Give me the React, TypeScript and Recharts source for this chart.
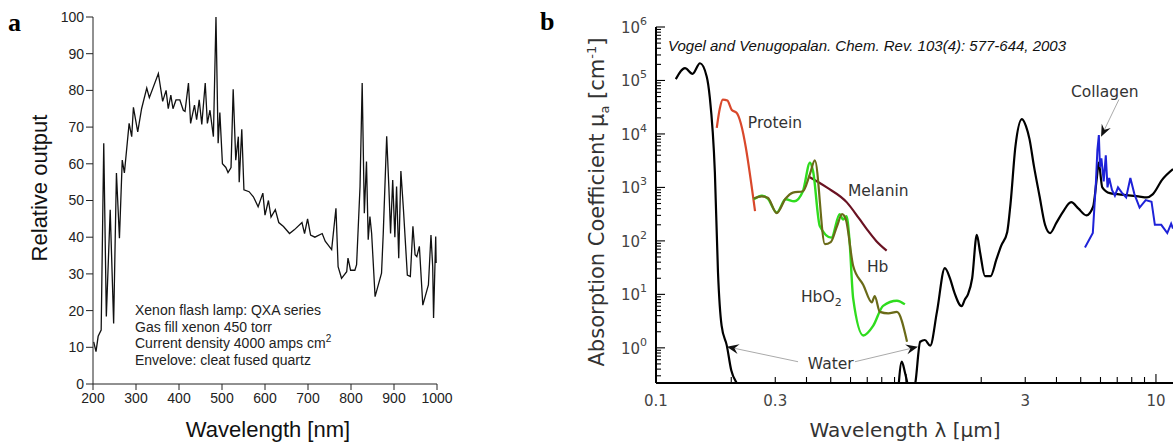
import React from 'react';
import { LineChart, Line, XAxis, YAxis, ReferenceLine, ReferenceDot } from 'recharts';

// ---- panel a: xenon flash lamp spectrum ----
const lampNm = [
  201.6, 207, 212, 219, 225, 231, 240, 248, 254.5, 261.5, 268, 273, 284, 290, 294, 304, 313, 325, 331, 352,
  362, 370, 375, 381, 386, 393, 402, 410, 414, 422, 427, 436, 441, 447, 453, 461, 466, 472, 480, 486,
  491, 495, 501, 509, 514, 521, 526, 532, 538, 540, 546, 551, 563, 573, 584, 595, 600, 608, 614, 624,
  632, 643, 657, 668, 686, 692, 699, 706, 716, 733, 740, 755, 765, 770, 778, 790, 793, 799, 809, 813,
  821, 826, 831, 836, 840, 844, 848, 856, 871, 875, 883, 888, 892, 897, 902, 906, 911, 916, 922, 931,
  938, 944, 949, 953, 959, 967, 980, 986, 990, 992, 997, 998,
];
const lampOutput = [
  11.5, 8.8, 13, 14.7, 65.6, 18.4, 47.5, 16.5, 57.5, 39.7, 61, 57.5, 71, 67.4, 75.4, 68.7, 75, 80.6, 78, 84.6,
  77, 80, 75, 78.7, 75, 77.4, 77.4, 74.6, 74.3, 82, 71, 76, 72, 77.4, 70.7, 82, 71, 74.6, 67.4, 100,
  65.6, 74, 60, 59, 57.6, 59, 80.3, 61, 67.4, 55, 69.4, 52.9, 52.4, 51, 48.3, 52, 46, 50, 45.5, 47.5,
  44, 42.9, 41, 42, 44, 41, 45, 40.6, 40, 41, 38.9, 36.6, 47.9, 32, 28.8, 30.6, 34.3, 31, 31, 32.5,
  53.8, 82, 46.5, 60.6, 39.3, 45.6, 41, 23.8, 30.2, 41, 67.5, 53.8, 41, 55.6, 40, 53.8, 34.3, 58, 47.5, 29.7,
  29.3, 43, 35.2, 34.7, 37.5, 21.5, 27, 40.6, 32, 18, 40.2, 33,
];
const lampXTicks = [200, 300, 400, 500, 600, 700, 800, 900, 1000];
const lampYTicks = [0, 10, 20, 30, 40, 50, 60, 70, 80, 90, 100];

// ---- panel b: tissue absorption coefficients ----
const waterUm = [
  0.12, 0.1306, 0.14, 0.15, 0.1595, 0.164, 0.172, 0.177, 0.183, 0.192, 0.2, 0.211, 0.222, 0.5,
  0.93, 0.962, 0.99, 1.03, 1.05,
  1.07, 1.09, 1.14, 1.19, 1.25, 1.33, 1.43, 1.5, 1.56, 1.67, 1.72, 1.77, 1.84, 1.92, 1.98, 2.07, 2.18,
  2.3, 2.4, 2.54, 2.62, 2.74, 2.91, 3.02, 3.12, 3.25, 3.42, 3.6, 3.77, 4.0, 4.24, 4.58, 4.9, 5.27, 5.6,
  5.8, 5.9, 6.1, 6.54, 7.6, 8.5, 9.2, 9.7, 10.6, 11.7,
];
const waterMu = [
  1.06e5, 1.7e5, 1.33e5, 2.1e5, 1.19e5, 5e4, 1.9e3, 26, 2.6, 1.1, 0.38, 0.215, 0.15, null,
  0.15, 0.55, 0.35, 0.15, null,
  0.15, 0.22, 1.3, 1.4, 1.1, 4.7, 31, 20, 11, 6, 8, 10, 20, 130, 60, 22, 22,
  45, 80, 145, 500, 5800, 1.9e4, 1.4e4, 8000, 2500, 700, 200, 140, 220, 345, 530, 400, 300, 430,
  1500, 2900, 1000, 780, 720, 680, 650, 740, 1400, 2200,
];
const proteinUm = [0.175, 0.18, 0.185, 0.193, 0.201, 0.21, 0.249];
const proteinMu = [1.3e4, 3e4, 4.4e4, 4.2e4, 2.8e4, 2.5e4, 360];
const hbo2Um = [0.246, 0.265, 0.28, 0.304, 0.33, 0.357, 0.387, 0.413, 0.425, 0.452, 0.503, 0.543, 0.56, 0.578, 0.594, 0.615, 0.675, 0.74, 0.81, 0.92, 0.99];
const hbo2Mu = [600, 700, 620, 340, 600, 550, 850, 2900, 2000, 190, 115, 316, 250, 290, 107, 8.3, 1.7, 2.6, 6.1, 7.6, 6.5];
const hbUm = [0.246, 0.265, 0.28, 0.304, 0.33, 0.353, 0.387, 0.413, 0.432, 0.474, 0.5, 0.53, 0.555, 0.575, 0.615, 0.675, 0.73, 0.75, 0.786, 0.85, 0.92, 1.01];
const hbMu = [620, 680, 640, 330, 620, 800, 850, 1800, 3200, 87, 95, 190, 316, 250, 34, 15, 7.1, 9.3, 4.7, 4.4, 4.7, 1.3];
const melaninUm = [0.407, 0.482, 0.58, 0.65, 0.697, 0.76, 0.837];
const melaninMu = [1600, 1000, 525, 260, 166, 100, 66];
const collagenUm = [5.2, 5.59, 5.75, 5.83, 5.91, 5.97, 6.05, 6.18, 6.3, 6.4, 6.5, 6.67, 6.85, 7.05, 7.3, 7.6, 7.9, 8.2, 8.6, 9.1, 9.6, 9.9, 10.5, 11.1, 11.5, 11.7];
const collagenMu = [75, 140, 1200, 5000, 9500, 2400, 3500, 1300, 4000, 1000, 1500, 900, 700, 1000, 800, 650, 1500, 750, 420, 580, 540, 200, 200, 140, 210, 170];

const muDecades = [0.1, 1, 10, 100, 1000, 1e4, 1e5, 1e6];
const umDecades = [0.1, 1, 10];
const mantissas = [1, 2, 3, 4, 5, 6, 7, 8, 9];
const umLabels = [0.1, 0.3, 3, 10];

const logTicks = (decs: number[], lo: number, hi: number) =>
  decs.flatMap((d) => mantissas.map((m) => Number((m * d).toPrecision(2)))).filter((v) => v >= lo && v <= hi);
const muTicks = logTicks(muDecades, 0.22, 1e6);
const umTicks = logTicks(umDecades, 0.1, 11.7);

const zip = (xs: number[], ys: (number | null)[]) => xs.map((x, i) => ({ x, y: ys[i] }));

const isDecade = (v: number) => Math.abs(Math.log10(v) - Math.round(Math.log10(v))) < 1e-6;

const bFont = '"DejaVu Sans", sans-serif';
const aFont = '"Liberation Sans", Arial, sans-serif';

const LeftTick = (props: any) => {
  const { x, y, payload } = props;
  const v = payload.value;
  const major = isDecade(v);
  return (
    <g>
      <line x1={x} y1={y} x2={x + (major ? 9 : 5)} y2={y} stroke="#000" strokeWidth={1.1} />
      {major && (
        <text x={x - 9} y={y + 6} textAnchor="end" fontSize={15} fill="#444" fontFamily={bFont}>
          10<tspan dy={-8} fontSize={11}>{Math.round(Math.log10(v))}</tspan>
        </text>
      )}
    </g>
  );
};

const RightTick = (props: any) => {
  const { x, y, payload } = props;
  const major = isDecade(payload.value);
  return <line x1={x} y1={y} x2={x - (major ? 9 : 5)} y2={y} stroke="#000" strokeWidth={1.1} />;
};

const BottomTick = (props: any) => {
  const { x, y, payload } = props;
  const v = payload.value;
  const major = isDecade(v);
  return (
    <g>
      <line x1={x} y1={y} x2={x} y2={y - (major ? 9 : 6)} stroke="#000" strokeWidth={1.1} />
      {umLabels.includes(v) && (
        <text x={x} y={y + 23} textAnchor="middle" fontSize={15} fill="#444" fontFamily={bFont}>
          {v}
        </text>
      )}
    </g>
  );
};

const TopTick = (props: any) => {
  const { x, y, payload } = props;
  const major = isDecade(payload.value);
  return <line x1={x} y1={y} x2={x} y2={y + (major ? 9 : 6)} stroke="#000" strokeWidth={1.1} />;
};

const Arrow = (props: any) => {
  const { x1, y1, x2, y2 } = props;
  const a = Math.atan2(y2 - y1, x2 - x1);
  const c = Math.cos(a);
  const s = Math.sin(a);
  const L = 12;
  const W = 5;
  const bx = x2 - L * c;
  const by = y2 - L * s;
  const nx = x2 - L * 0.65 * c;
  const ny = y2 - L * 0.65 * s;
  const pts = [
    [x2, y2],
    [bx - W * s, by + W * c],
    [nx, ny],
    [bx + W * s, by - W * c],
  ]
    .map((p) => p.join(','))
    .join(' ');
  return (
    <g>
      <line x1={x1} y1={y1} x2={nx} y2={ny} stroke="#aaa" strokeWidth={1} />
      <polygon points={pts} fill="#111" />
    </g>
  );
};

const note = (content: React.ReactNode, size = 15.5, extra: any = {}) => (p: any) => (
  <text x={p.cx} y={p.cy} fontSize={size} fill="#333" fontFamily={bFont} dominantBaseline="middle" {...extra}>
    {content}
  </text>
);

const abs = (style: React.CSSProperties, children: React.ReactNode) => (
  <div style={{ position: 'absolute', whiteSpace: 'nowrap', ...style }}>{children}</div>
);

export default function App() {
  const lamp = zip(lampNm, lampOutput);
  return (
    <div style={{ position: 'absolute', left: 0, top: 0, width: 1176, height: 443, background: '#fff', overflow: 'hidden' }}>
      <div style={{ position: 'absolute', left: 0, top: 0 }}>
        <LineChart width={480} height={443} data={lamp} margin={{ top: 17, right: 43, bottom: 29, left: 33 }}>
          <XAxis
            dataKey="x"
            type="number"
            domain={[200, 1000]}
            ticks={lampXTicks}
            interval={0}
            height={30}
            tickSize={6}
            tickMargin={3}
            stroke="#222"
            tick={{ fontSize: 14, fill: '#222', fontFamily: aFont }}
          />
          <YAxis
            type="number"
            domain={[0, 100]}
            ticks={lampYTicks}
            interval={0}
            width={60}
            tickSize={7}
            tickMargin={2}
            stroke="#222"
            tick={{ fontSize: 14, fill: '#222', fontFamily: aFont }}
          />
          <Line dataKey="y" type="linear" stroke="#111" strokeWidth={1.3} dot={false} activeDot={false} isAnimationActive={false} />
        </LineChart>
      </div>

      <div style={{ position: 'absolute', left: 540, top: 0 }}>
        <LineChart width={636} height={443} margin={{ top: 27, right: 3, bottom: 0, left: 0 }}>
          <XAxis
            dataKey="x"
            type="number"
            scale="log"
            domain={[0.1, 11.7]}
            allowDataOverflow
            ticks={umTicks}
            interval={0}
            height={60}
            tickSize={0}
            tickMargin={0}
            tickLine={false}
            axisLine={{ stroke: '#000', strokeWidth: 2 }}
            tick={<BottomTick />}
          />
          <XAxis
            xAxisId="top"
            orientation="top"
            dataKey="x"
            type="number"
            scale="log"
            domain={[0.1, 11.7]}
            allowDataOverflow
            ticks={umTicks}
            interval={0}
            height={0}
            tickSize={0}
            tickMargin={0}
            tickLine={false}
            axisLine={{ stroke: '#000', strokeWidth: 2 }}
            tick={<TopTick />}
          />
          <YAxis
            type="number"
            scale="log"
            domain={[0.22, 1e6]}
            allowDataOverflow
            ticks={muTicks}
            interval={0}
            width={116}
            tickSize={0}
            tickMargin={0}
            tickLine={false}
            axisLine={{ stroke: '#000', strokeWidth: 2 }}
            tick={<LeftTick />}
          />
          <YAxis
            yAxisId="right"
            orientation="right"
            type="number"
            scale="log"
            domain={[0.22, 1e6]}
            allowDataOverflow
            ticks={muTicks}
            interval={0}
            width={0}
            tickSize={0}
            tickMargin={0}
            tickLine={false}
            axisLine={{ stroke: '#000', strokeWidth: 2 }}
            tick={<RightTick />}
          />
          <Line data={zip(waterUm, waterMu)} dataKey="y" type="monotone" stroke="#000" strokeWidth={2.2} dot={false} activeDot={false} connectNulls={false} isAnimationActive={false} />
          <Line data={zip(proteinUm, proteinMu)} dataKey="y" type="monotone" stroke="#d9482b" strokeWidth={2.2} dot={false} activeDot={false} isAnimationActive={false} />
          <Line data={zip(melaninUm, melaninMu)} dataKey="y" type="monotone" stroke="#6a1222" strokeWidth={2.2} dot={false} activeDot={false} isAnimationActive={false} />
          <Line data={zip(hbo2Um, hbo2Mu)} dataKey="y" type="monotone" stroke="#2fdc1e" strokeWidth={2.4} dot={false} activeDot={false} isAnimationActive={false} />
          <Line data={zip(hbUm, hbMu)} dataKey="y" type="monotone" stroke="#6a6a18" strokeWidth={2.2} dot={false} activeDot={false} isAnimationActive={false} />
          <Line data={zip(collagenUm, collagenMu)} dataKey="y" type="linear" stroke="#1e22d8" strokeWidth={2} dot={false} activeDot={false} isAnimationActive={false} />

          <ReferenceLine segment={[{ x: 0.37, y: 0.55 }, { x: 0.192, y: 1.05 }]} shape={<Arrow />} />
          <ReferenceLine segment={[{ x: 0.625, y: 0.55 }, { x: 1.117, y: 1.05 }]} shape={<Arrow />} />
          <ReferenceLine segment={[{ x: 7.11, y: 4.4e4 }, { x: 6.03, y: 8.9e3 }]} shape={<Arrow />} />

          <ReferenceDot x={0.1117} y={4.2e5} r={0} shape={note('Vogel and Venugopalan. Chem. Rev. 103(4): 577-644, 2003', 15, { fontStyle: 'italic', fontFamily: aFont, fill: '#111' })} />
          <ReferenceDot x={0.233} y={1.56e4} r={0} shape={note('Protein')} />
          <ReferenceDot x={0.586} y={850} r={0} shape={note('Melanin')} />
          <ReferenceDot x={0.698} y={32} r={0} shape={note('Hb')} />
          <ReferenceDot
            x={0.38}
            y={8.9}
            r={0}
            shape={note(
              <>
                HbO<tspan dy={6} fontSize={11}>2</tspan>
              </>,
            )}
          />
          <ReferenceDot x={0.405} y={0.49} r={0} shape={note('Water')} />
          <ReferenceDot x={4.57} y={5.9e4} r={0} shape={note('Collagen')} />
        </LineChart>
      </div>

      {abs({ left: 8, top: 10, fontFamily: '"Liberation Serif", serif', fontWeight: 'bold', fontSize: 26, lineHeight: '26px' }, 'a')}
      {abs({ left: 540, top: 9, fontFamily: '"Liberation Serif", serif', fontWeight: 'bold', fontSize: 26, lineHeight: '26px' }, 'b')}

      {abs(
        { left: 40, top: 188, transform: 'translate(-50%, -50%) rotate(-90deg)', fontFamily: aFont, fontSize: 22, color: '#111' },
        'Relative output',
      )}
      {abs({ left: 268, top: 430, transform: 'translate(-50%, -50%)', fontFamily: aFont, fontSize: 22, color: '#111' }, 'Wavelength [nm]')}
      {abs(
        { left: 135, top: 302, fontFamily: aFont, fontSize: 14, lineHeight: '16.7px', color: '#222' },
        <>
          <div>Xenon flash lamp: QXA series</div>
          <div>Gas fill xenon 450 torr</div>
          <div>
            Current density 4000 amps cm<sup style={{ fontSize: 10, verticalAlign: 6, lineHeight: 0 }}>2</sup>
          </div>
          <div>Envelove: cleat fused quartz</div>
        </>,
      )}

      {abs(
        { left: 597, top: 202, transform: 'translate(-50%, -50%) rotate(-90deg)', fontFamily: bFont, fontSize: 21, color: '#333' },
        <>
          Absorption Coefficient μ<sub style={{ fontSize: 13, lineHeight: 0 }}>a</sub> [cm<sup style={{ fontSize: 13, lineHeight: 0 }}>-1</sup>]
        </>,
      )}
      {abs({ left: 905, top: 430, transform: 'translate(-50%, -50%)', fontFamily: bFont, fontSize: 20, color: '#333' }, 'Wavelength λ [μm]')}
    </div>
  );
}
